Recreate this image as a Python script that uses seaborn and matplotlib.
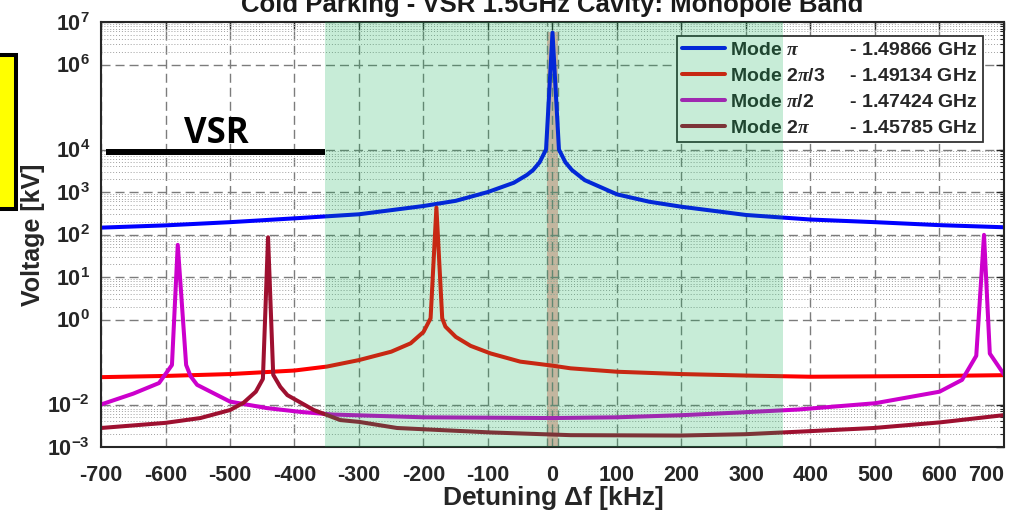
import matplotlib
matplotlib.use("Agg")
import matplotlib.pyplot as plt
import seaborn as sns
import pandas as pd
from matplotlib.lines import Line2D
from matplotlib.patches import Rectangle
from matplotlib.ticker import FixedLocator, FixedFormatter, NullFormatter

# Cavity voltage [kV] versus detuning [kHz] for each monopole-band mode
det_pi = [-700, -600, -500, -400, -300, -200, -150, -100, -60, -40, -30, -20, -10, 0,
          10, 20, 30, 50, 100, 150, 200, 300, 400, 500, 600, 700]
volt_pi = [145, 164, 195, 240, 299, 468, 620, 1000, 1650, 2500, 3300, 5000, 1.0e4, 5.6e6,
           1.0e4, 5.0e3, 3.3e3, 1.9e3, 880, 590, 450, 288, 225, 195, 166, 148]

det_2pi3 = [-700, -600, -500, -400, -350, -300, -250, -220, -200, -189, -180, -171, -166,
            -150, -127, -96, -50, 0, 28, 100, 200, 300, 400, 500, 600, 700]
volt_2pi3 = [0.044, 0.047, 0.052, 0.063, 0.078, 0.111, 0.175, 0.275, 0.51, 1.07, 430, 1.07, 0.68,
             0.39, 0.24, 0.159, 0.102, 0.082, 0.071, 0.059, 0.052, 0.048, 0.045, 0.046, 0.047, 0.049]

det_pi2 = [-700, -650, -610, -600, -590, -581, -568, -561, -551, -500, -442, -391, -340, -200,
           0, 100, 200, 300, 380, 500, 600, 635, 657, 669, 678, 700]
volt_pi2 = [0.0100, 0.018, 0.032, 0.052, 0.085, 57, 0.085, 0.046, 0.029, 0.0117, 0.0082, 0.0067,
            0.0058, 0.0050, 0.0048, 0.0050, 0.0056, 0.0066, 0.0076, 0.0107, 0.020, 0.038, 0.14,
            98, 0.158, 0.051]

det_2pi = [-700, -600, -546, -500, -479, -460, -449, -441, -433, -422, -411, -370, -329, -300,
           -241, -96, 28, 198, 299, 384, 498, 601, 699]
volt_2pi = [0.0028, 0.0037, 0.0048, 0.0074, 0.011, 0.020, 0.040, 86, 0.050, 0.026, 0.0166,
            0.0074, 0.0043, 0.0039, 0.0028, 0.0022, 0.0019, 0.00186, 0.0020, 0.0023, 0.0028,
            0.0038, 0.0056]

modes = ["pi", "2pi/3", "pi/2", "2pi"]
mode_names = [r"Mode $\pi$", r"Mode 2$\pi$/3", r"Mode $\pi$/2", r"Mode 2$\pi$"]
mode_freqs = ["1.49866", "1.49134", "1.47424", "1.45785"]
mode_colors = ["#0000ff", "#ff0000", "#cc00cc", "#9e1030"]
name_gap = [3.45, 1.65, 2.4, 2.75]

x_ticks = [-700, -600, -500, -400, -300, -200, -100, 0, 100, 200, 300, 400, 500, 600, 700]
y_ticks = [1e-3, 1e-2, 1e0, 1e1, 1e2, 1e3, 1e4, 1e6, 1e7]
y_tick_labels = [r"$\mathbf{10^{-3}}$", r"$\mathbf{10^{-2}}$", r"$\mathbf{10^{0}}$",
                 r"$\mathbf{10^{1}}$", r"$\mathbf{10^{2}}$", r"$\mathbf{10^{3}}$",
                 r"$\mathbf{10^{4}}$", r"$\mathbf{10^{6}}$", r"$\mathbf{10^{7}}$"]
minor_decades = [-3, 0, 1, 2, 3, 6]

parking_band = (-352, 358)
operating_band = (-9, 9)
operating_top = 5.8e6
vsr_span = (-692, -352)
vsr_level = 8.8e3

sns.set_theme(style="white")
plt.rcParams["font.family"] = ["Liberation Sans", "DejaVu Sans"]
plt.rcParams["font.weight"] = "bold"
plt.rcParams["axes.unicode_minus"] = False
plt.rcParams["mathtext.fontset"] = "custom"
plt.rcParams["mathtext.rm"] = "Liberation Sans:bold"
plt.rcParams["mathtext.bf"] = "Liberation Sans:bold"
plt.rcParams["mathtext.sf"] = "Liberation Sans:bold"
plt.rcParams["mathtext.it"] = "Liberation Serif:italic:bold"

frames = [pd.DataFrame({"detuning": d, "voltage": v, "mode": m})
          for m, d, v in zip(modes, [det_pi, det_2pi3, det_pi2, det_2pi],
                             [volt_pi, volt_2pi3, volt_pi2, volt_2pi])]
df = pd.concat(frames, ignore_index=True)
palette = dict(zip(modes, mode_colors))

fig = plt.figure(figsize=(10.12, 5.12), dpi=100)
ax = fig.add_axes([101 / 1012, 1 - 447 / 512, 903 / 1012, 425 / 512])

sns.lineplot(data=df, x="detuning", y="voltage", hue="mode", hue_order=modes,
             palette=palette, estimator=None, sort=False, linewidth=2.9,
             legend=False, ax=ax)
for ln in ax.lines:
    ln.set_solid_joinstyle("round")

ax.set_yscale("log")
ax.set_xlim(-700, 700)
ax.set_ylim(1e-3, 1e7)

ax.set_xticks(x_ticks)
ax.set_xticklabels([str(t) for t in x_ticks])
ax.get_xticklabels()[-1].set_horizontalalignment("right")
ax.yaxis.set_major_locator(FixedLocator(y_ticks))
ax.yaxis.set_major_formatter(FixedFormatter(y_tick_labels))
ax.yaxis.set_minor_locator(FixedLocator([k * 10.0 ** e for e in minor_decades for k in range(2, 10)]))
ax.yaxis.set_minor_formatter(NullFormatter())

ax.set_axisbelow(True)
ax.grid(True, which="major", color="#7c7c7c", linestyle=(0, (6.5, 3.6)), linewidth=1.0)
ax.grid(True, which="minor", axis="y", color="#a0a0a0", linestyle=(0, (1, 2)), linewidth=0.7)

ax.tick_params(axis="both", which="both", direction="in", top=True, right=True,
               colors="#262626")
ax.tick_params(axis="x", which="major", length=6, width=1, pad=13, labelsize=15.5)
ax.tick_params(axis="y", which="major", length=6, width=1, pad=8, labelsize=15.5)
ax.tick_params(axis="y", which="minor", length=3, width=0.8)
ax.tick_params(axis="x", which="minor", bottom=False, top=False)
for s in ax.spines.values():
    s.set_color("#262626")
    s.set_linewidth(1.5)

ax.set_title("Cold Parking - VSR 1.5GHz Cavity: Monopole Band", fontsize=18.5,
             fontweight="bold", color="#1a1a1a", pad=7.4)
ax.set_xlabel(r"Detuning $\Delta$f [kHz]", fontsize=19, fontweight="bold", color="#262626")
ax.xaxis.set_label_coords(0.5, -0.088)
ax.set_ylabel("Voltage [kV]", fontsize=18, fontweight="bold", color="#262626")
ax.yaxis.set_label_coords(-0.062, 0.5)

# operating window around the pi mode and the parking region
ax.fill_between(list(operating_band), 1e-3, operating_top, color="#fab8b6", lw=0, zorder=0.4)
ax.vlines(list(operating_band), 1e-3, 1e7, colors="#7c7c7c", linestyles=(0, (6.5, 3.6)),
          linewidth=1.0, zorder=0.6)

# VSR voltage level
ax.plot(list(vsr_span), [vsr_level, vsr_level], color="black", lw=4.3,
        solid_capstyle="butt", zorder=3)
fig.text(216 / 1012, 1 - 143 / 512, "VSR", fontsize=25, fontweight="bold",
         family="Open Sans", ha="center", va="baseline", color="black")

legend_labels = [n + r"$\hspace{%.2f}$" % g + "- " + f + " GHz"
                 for n, g, f in zip(mode_names, name_gap, mode_freqs)]
handles = [Line2D([], [], color=c, lw=2.9) for c in mode_colors]
leg = ax.legend(handles, legend_labels, loc="upper right", bbox_to_anchor=(0.9767, 0.966),
                borderaxespad=0, frameon=True, fancybox=False, framealpha=1,
                edgecolor="#333333", prop={"size": 14, "weight": "bold"},
                handlelength=2.2, handletextpad=0.3, borderpad=0.25, labelspacing=0.43)
leg.get_frame().set_linewidth(1.3)
leg.set_zorder(5)

ax.axvspan(*parking_band, color="#0db054", alpha=0.23, lw=0, zorder=6)

fig.patches.append(Rectangle((-6 / 1012, 1 - 209 / 512), 22.5 / 1012, 154.5 / 512,
                             transform=fig.transFigure, facecolor="#ffff00",
                             edgecolor="black", lw=2.9, zorder=10))

fig.savefig("out.png", dpi=100)
